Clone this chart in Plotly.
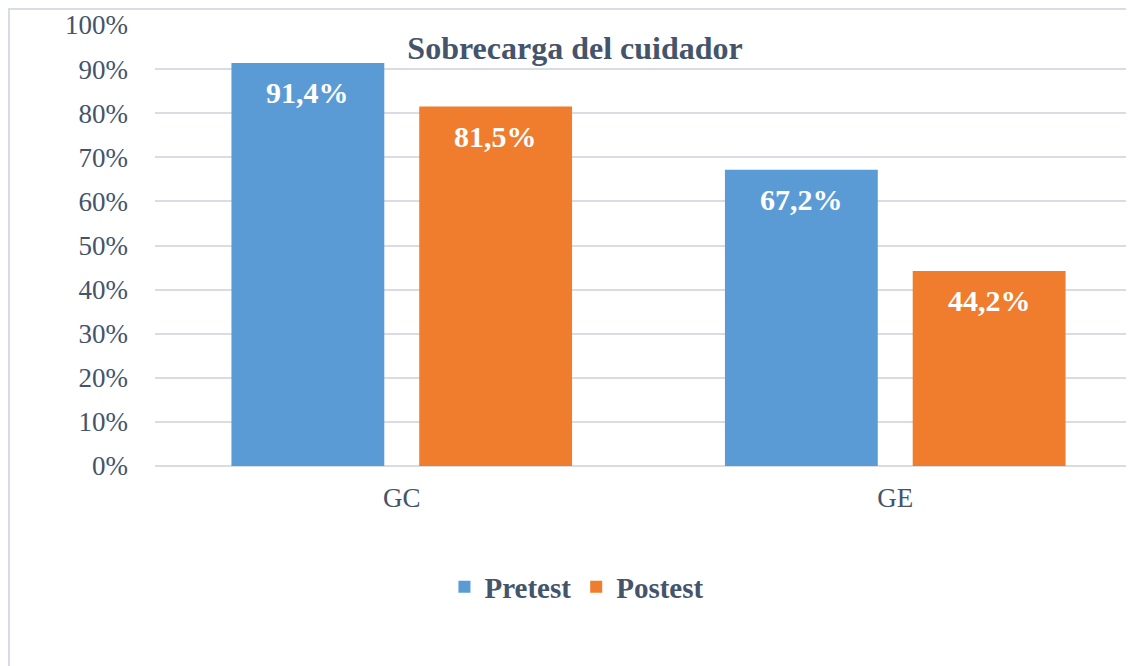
import plotly.graph_objects as go

# data
grupos = ["GC", "GE"]
pretest = [91.4, 67.2]
postest = [81.5, 44.2]
etiquetas_pre = ["91,4%", "67,2%"]
etiquetas_post = ["81,5%", "44,2%"]
ticks_y = [0, 10, 20, 30, 40, 50, 60, 70, 80, 90, 100]
ticks_txt = [str(t) + "%" for t in ticks_y]

texto = "#44546A"
fuente = "Liberation Serif, Times New Roman, serif"

fig = go.Figure()
fig.add_trace(go.Bar(x=grupos, y=pretest, name="<b>Pretest</b>",
                     marker=dict(color="#5B9BD5", line=dict(width=0))))
fig.add_trace(go.Bar(x=grupos, y=postest, name="<b>Postest</b>",
                     marker=dict(color="#EF7D2D", line=dict(width=0))))

# value labels inside the top of each bar
for vals, labs, shift in [(pretest, etiquetas_pre, -94), (postest, etiquetas_post, 94)]:
    for g, v, t in zip(grupos, vals, labs):
        fig.add_annotation(x=g, y=v, text="<b>" + t + "</b>", showarrow=False,
                           xshift=shift, yshift=-11, yanchor="top",
                           font=dict(family=fuente, size=30, color="white"))

# light frame around the chart
fig.add_shape(type="rect", xref="paper", yref="paper",
              x0=-0.1491, x1=1.3, y0=-1, y1=1.0363,
              line=dict(color="#D9DDE3", width=2), fillcolor="rgba(0,0,0,0)")

fig.update_layout(
    width=1126, height=658,
    margin=dict(l=147, r=0, t=17, b=200),
    paper_bgcolor="white", plot_bgcolor="white",
    barmode="group", bargap=0.239, bargroupgap=0.186,
    font=dict(family=fuente, color=texto),
    title=dict(text="<b>Sobrecarga del cuidador</b>", x=0.5036, xanchor="center",
               y=0.939, yanchor="middle", font=dict(size=32, color=texto)),
    legend=dict(orientation="h", x=0.431, xanchor="center", y=-0.274, yanchor="middle",
                font=dict(size=29, color=texto)),
    showlegend=True,
)
fig.update_xaxes(range=[-0.5, 1.5 - 8 / 494], showgrid=False, showline=False,
                 ticks="", ticklabelstandoff=13, tickfont=dict(size=27, color=texto))
fig.update_yaxes(range=[0, 100], tickvals=ticks_y, ticktext=ticks_txt,
                 showgrid=True, gridcolor="#D9DDE3", gridwidth=1.5,
                 zeroline=True, zerolinecolor="#D9DDE3", zerolinewidth=1.5,
                 showline=False, ticks="", ticklabelstandoff=26,
                 tickfont=dict(size=27, color=texto))

fig.write_html("out.html")
